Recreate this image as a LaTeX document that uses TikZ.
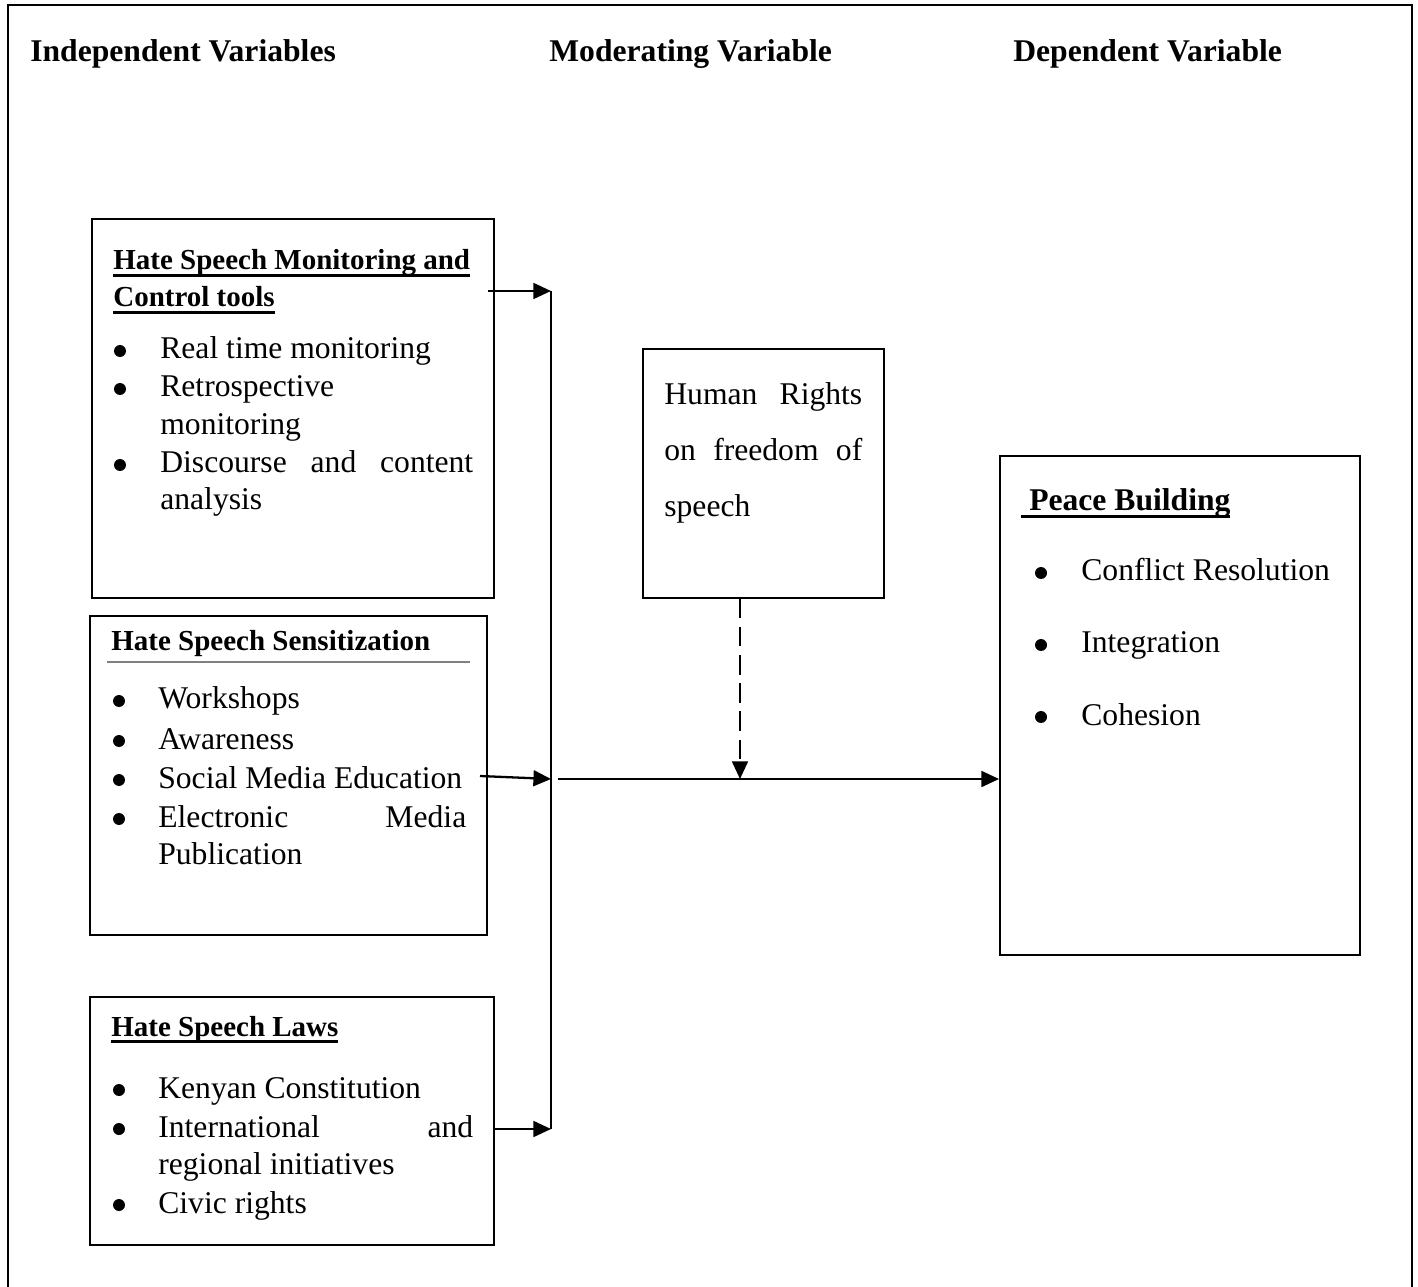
\documentclass[tikz,border=0pt]{standalone}
\usepackage{fontspec}
\setmainfont{Liberation Serif}
\usetikzlibrary{arrows.meta,fit}

\newsavebox\ulsave
\newcommand\ulin[1]{\sbox\ulsave{#1}\rlap{\rule[-4pt]{\wd\ulsave}{1.5pt}}\usebox\ulsave}

\begin{document}
\begin{tikzpicture}[
		x=0.02cm, y=-0.02cm,
		box/.style={draw, line width=1.1pt, inner sep=0pt},
		head/.style={anchor=base west, inner sep=0pt, font=\fontsize{18}{22}\selectfont\bfseries},
		title/.style={anchor=base west, inner sep=0pt, font=\fontsize{16.5}{20}\selectfont\bfseries},
		txt/.style={anchor=base west, inner sep=0pt, font=\fontsize{18}{22}\selectfont},
		dot/.style={circle, fill, inner sep=0pt, minimum size=0.24cm, yshift=0.16cm},
		arrow/.style={-{Triangle[length=10pt,width=9pt]}, line width=1.3pt},
		dasharrow/.style={arrow, dash pattern=on 11pt off 5pt},
		line/.style={-, line width=1.3pt}
	]
	\useasboundingbox (0,0) rectangle (1418,1287);

	% Frame
	\draw[line width=1.2pt] (8,1295) -- (8,5) -- (1412,5) -- (1412,1295);

	% Column headings
	\node[head] (hind) at (30,62) {Independent Variables};
	\node[head] (hmod) at (549,62) {Moderating Variable};
	\node[head] (hdep) at (1013,62) {Dependent Variable};

	% Monitoring and control tools
	\node[box, fit={(92,219) (494,598)}] (mon) {};
	\node[title] (mont1) at (113,270) {\ulin{Hate Speech Monitoring and}};
	\node[title] (mont2) at (113,307) {\ulin{Control tools}};
	\foreach \y/\t [count=\i] in {359/Real time monitoring, 397/Retrospective, 435/monitoring,
		473/{\makebox[6.26cm][s]{Discourse and content}}, 510/analysis}
		\node[txt] (monl\i) at (160,\y) {\t};
	\foreach \y [count=\i] in {359,397,473}
		\node[dot] (mond\i) at (120,\y) {};

	% Sensitization
	\node[box, fit={(90,616) (487,935)}] (sens) {};
	\node[title] (senst) at (111,651) {Hate Speech Sensitization};
	\draw[gray, line width=1pt] (107,662) -- (470,662);
	\foreach \y/\t [count=\i] in {709/Workshops, 749/Awareness, 788/Social Media Education,
		827/{\makebox[6.16cm][s]{Electronic Media}}, 864/Publication}
		\node[txt] (sensl\i) at (158,\y) {\t};
	\foreach \y [count=\i] in {709,749,788,827}
		\node[dot] (sensd\i) at (119,\y) {};

	% Laws
	\node[box, fit={(90,997) (494,1245)}] (law) {};
	\node[title] (lawt) at (111,1036) {\ulin{Hate Speech Laws}};
	\foreach \y/\t [count=\i] in {1098/Kenyan Constitution, 1137/{\makebox[6.3cm][s]{International and}},
		1174/regional initiatives, 1213/Civic rights}
		\node[txt] (lawl\i) at (158,\y) {\t};
	\foreach \y [count=\i] in {1098,1137,1213}
		\node[dot] (lawd\i) at (119,\y) {};

	% Moderating variable
	\node[box, fit={(643,349) (884,598)}] (mod) {};
	\node[txt] (modl1) at (664,405) {\makebox[3.96cm][s]{Human Rights}};
	\node[txt] (modl2) at (664,461) {\makebox[3.96cm][s]{on freedom of}};
	\node[txt] (modl3) at (664,517) {speech};

	% Peace building
	\node[box, fit={(1000,456) (1360,955)}] (dep) {};
	\node[head] (dept) at (1021,511) {\ulin{\ Peace Building}};
	\foreach \y/\t [count=\i] in {581/Conflict Resolution, 653/Integration, 725/Cohesion}
	{
		\node[txt] (depl\i) at (1081,\y) {\t};
		\node[dot] (depd\i) at (1041,\y) {};
	}

	% Connectors
	\coordinate (jtop) at (551,291);
	\coordinate (jsens) at (551,779);
	\coordinate (jbot) at (551,1129);
	\coordinate (jmid) at (558,779);
	\coordinate (jdash) at (740,779);
	\coordinate (monout) at (488,291);
	\coordinate (sensout) at (480,776);
	\draw[line] (jtop) -- (jbot);
	\draw[arrow] (monout) -- (jtop);
	\draw[arrow] (sensout) -- (jsens);
	\draw[arrow] (law.east |- jbot) -- (jbot);
	\draw[arrow] (jmid) -- (jmid -| dep.west);
	\draw[dasharrow] (mod.south -| jdash) -- (jdash);

\end{tikzpicture}
\end{document}
